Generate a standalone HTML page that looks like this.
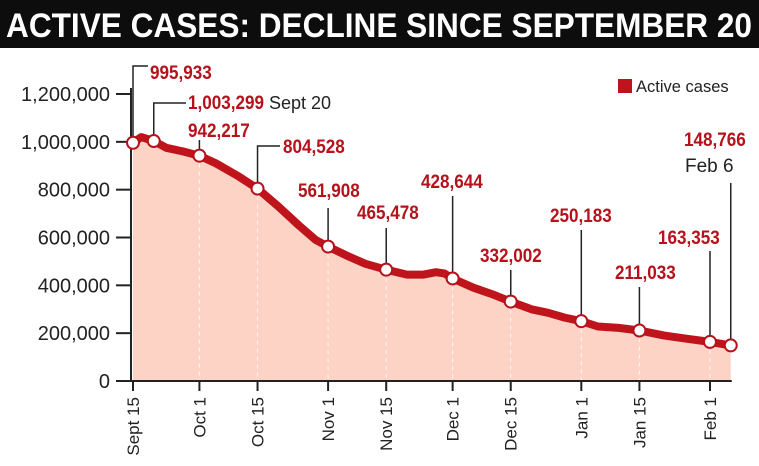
<!DOCTYPE html>
<html><head><meta charset="utf-8"><style>
html,body{margin:0;padding:0;background:#fff}
svg{display:block}
text{font-family:"Liberation Sans",sans-serif}
</style></head><body>
<svg id="chart" width="759" height="466" viewBox="0 0 759 466">
<rect x="0" y="0" width="759" height="48" fill="#0d0d0d"/>
<text x="6" y="37" fill="#fff" font-size="34" font-weight="bold" textLength="746" lengthAdjust="spacingAndGlyphs">ACTIVE CASES: DECLINE SINCE SEPTEMBER 20</text>
<g id="plot"></g>
</svg>
<script>
const days=[0,2,5,8,12,16,20,25,30,35,40,44,47,52,56,61,66,70,73,75,77,82,87,91,96,100,104,108,112,117,122,128,134,139,144];
const values=[995933,1020000,1003299,975000,960000,942217,910000,860000,804528,730000,650000,590000,561908,520000,490000,465478,445000,445000,455000,450000,428644,390000,360000,332002,300000,285000,265000,250183,228000,222000,211033,190000,175000,163353,148766];
const markerDays=[0,5,16,30,47,61,77,91,108,122,139,144];
const labelTexts=["995,933","1,003,299","942,217","804,528","561,908","465,478","428,644","332,002","250,183","211,033","163,353","148,766"];
const tickDays=[0,16,30,47,61,77,91,108,122,139];
const tickLabels=["Sept 15","Oct 1","Oct 15","Nov 1","Nov 15","Dec 1","Dec 15","Jan 1","Jan 15","Feb 1"];
const yTicks=[0,200000,400000,600000,800000,1000000,1200000];
const NS="http://www.w3.org/2000/svg";
const X=d=>133+d*4.151;
const Y=v=>381-v*(287/1200000);
const g=document.getElementById('plot');
function mk(tag,attrs,parent){const e=document.createElementNS(NS,tag);for(const k in attrs)e.setAttribute(k,attrs[k]);(parent||g).appendChild(e);return e;}
function valAt(d){for(let i=0;i<days.length;i++){if(days[i]===d)return values[i];}return values[values.length-1];}
let pts=days.map((d,i)=>X(d).toFixed(1)+","+Y(values[i]).toFixed(1));
let area=mk('path',{d:"M"+X(days[0])+","+Y(0)+" L"+pts.join(" L")+" L"+X(days[days.length-1])+","+Y(0)+" Z",fill:"#fcd3c4"});


tickDays.slice(1).forEach(d=>{const l=mk('line',{x1:X(d),x2:X(d),y1:Y(valAt(d))+8,y2:Y(0),stroke:"#fff","stroke-width":1,"stroke-dasharray":"4 4",opacity:0.8});

});
let line=mk('polyline',{points:pts.join(" "),fill:"none",stroke:"#c0141c","stroke-width":8,"stroke-linejoin":"round","stroke-linecap":"round"});


let ya=mk('line',{x1:131,x2:131,y1:88,y2:382,stroke:"#222","stroke-width":2});


let xa=mk('line',{x1:130,x2:X(144)+1,y1:381,y2:381,stroke:"#222","stroke-width":2});


yTicks.forEach(v=>{mk('line',{x1:116,x2:131,y1:Y(v),y2:Y(v),stroke:"#222","stroke-width":2});
const t=mk('text',{x:110,y:Y(v)+7,"text-anchor":"end","font-size":20,fill:"#222"});t.textContent=v.toLocaleString('en-US');

});
tickDays.forEach((d,i)=>{mk('line',{x1:X(d),x2:X(d),y1:381,y2:391,stroke:"#222","stroke-width":2});
const t=mk('text',{transform:`translate(${X(d)+6},397) rotate(-90)`,"text-anchor":"end","font-size":17,fill:"#222"});t.textContent=tickLabels[i];

});
const ann=[
 {lx:150,ly:79,path:d=>`M${X(d)},${Y(valAt(d))} V66 H148`},
 {lx:188,ly:109,path:d=>`M${X(d)},${Y(valAt(d))} V103 H186`,extra:"Sept 20"},
 {lx:188,ly:137,path:d=>`M${X(d)},${Y(valAt(d))} V140`},
 {lx:283,ly:153,path:d=>`M${X(d)},${Y(valAt(d))} V146 H280`},
 {lx:298,ly:197,path:d=>`M${X(d)},${Y(valAt(d))} V208`},
 {lx:357,ly:219,path:d=>`M${X(d)},${Y(valAt(d))} V228`},
 {lx:421,ly:188,path:d=>`M${X(d)},${Y(valAt(d))} V196`},
 {lx:480,ly:262,path:d=>`M${X(d)},${Y(valAt(d))} V270`},
 {lx:550,ly:222,path:d=>`M${X(d)},${Y(valAt(d))} V230`},
 {lx:615,ly:279,path:d=>`M${X(d)},${Y(valAt(d))} V287`},
 {lx:658,ly:244,path:d=>`M${X(d)},${Y(valAt(d))} V251`},
 {lx:684,ly:146,path:d=>`M${X(d)},${Y(valAt(d))} V183`,extra2:"Feb 6"}
];
markerDays.forEach((d,i)=>{const a=ann[i];
 const p=mk('path',{d:a.path(d),fill:"none",stroke:"#222","stroke-width":1.5});
 
 
 const t=mk('text',{x:a.lx,y:a.ly,"font-size":19,"font-weight":"bold",fill:"#b5121b",transform:`translate(${a.lx} 0) scale(0.9 1) translate(${-a.lx} 0)`});t.textContent=labelTexts[i];
 
 
 if(a.extra){const e=mk('text',{x:269,y:a.ly,"font-size":18,fill:"#222"});e.textContent=a.extra;
  
  }
 if(a.extra2){const e=mk('text',{x:a.lx+1,y:a.ly+26,"font-size":19,fill:"#222"});e.textContent=a.extra2;
  
  }
});
markerDays.forEach(d=>{const c=mk('circle',{cx:X(d),cy:Y(valAt(d)),r:6,fill:"#fff",stroke:"#b5121b","stroke-width":2});

});
const ls=mk('rect',{x:618,y:79,width:14,height:14,fill:"#c0141c"});


const lt=mk('text',{x:636,y:92,"font-size":16.5,fill:"#222"});lt.textContent="Active cases";


</script>
</body></html>
